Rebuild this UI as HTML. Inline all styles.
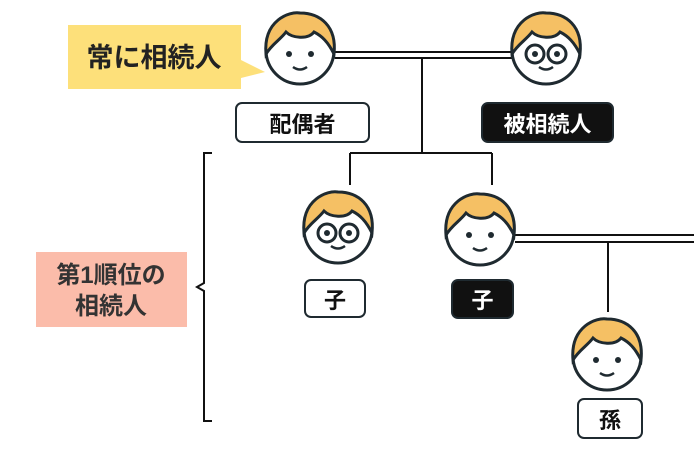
<!DOCTYPE html>
<html><head><meta charset="utf-8"><style>
body{margin:0;width:694px;height:458px;background:#fff;overflow:hidden;position:relative;font-family:"Liberation Sans","Noto Sans CJK JP",sans-serif}
.b{position:absolute;box-sizing:border-box;border:2px solid #1f2a30;border-radius:7px;display:flex;align-items:center;justify-content:center;font-weight:bold;font-size:22px;color:#111;background:#fff}
.k{background:#111;color:#fff}
</style></head><body>
<svg width="694" height="458" style="position:absolute;left:0;top:0">
<defs>
<g id="f">
<circle cx="0" cy="0" r="34" fill="#fff" stroke="#1f2a30" stroke-width="3"/>
<path d="M-34,4 C-37,-30 -10,-39 0,-37 C20,-37 37,-24 34,4 C28,-8 22,-14 14,-18 C8,-10 -8,-12 -14,-18 C-20,-10 -28,-6 -34,4Z" fill="#f5c064" stroke="#1f2a30" stroke-width="3"/>
<circle cx="-11" cy="4" r="3" fill="#1f2a30"/><circle cx="11" cy="4" r="3" fill="#1f2a30"/>
<path d="M-7,17 Q0,22 7,17" fill="none" stroke="#1f2a30" stroke-width="2.5"/>
</g>
<g id="g"><circle cx="-11" cy="4" r="9" fill="none" stroke="#1f2a30" stroke-width="3"/><circle cx="11" cy="4" r="9" fill="none" stroke="#1f2a30" stroke-width="3"/></g>
</defs>
<path d="M68,25H241V60L265,72L241,78V89H68Z" fill="#fde07a"/>
<rect x="36" y="252" width="151" height="75" fill="#fbbcaa"/>
<path d="M212,153H204V283L197,287L204,291V421H212" fill="none" stroke="#111" stroke-width="2"/>
<g stroke="#111" stroke-width="2" fill="none">
<path d="M335,52H512M335,58H512M422,58V153M350,153H492M350,153V185M492,153V185"/>
<path d="M515,235H694M515,242H694M608,242V312"/>
</g>
<use href="#f" x="300" y="50"/>
<use href="#f" x="546" y="50"/><use href="#g" x="546" y="50"/>
<use href="#f" x="338" y="229"/><use href="#g" x="338" y="229"/>
<use href="#f" x="480" y="231"/>
<use href="#f" x="607" y="356"/>
<text x="154" y="67" text-anchor="middle" font-size="27" font-weight="bold" fill="#222" font-family="Liberation Sans,Noto Sans CJK JP,sans-serif">常に相続人</text>
<text x="111" y="283" text-anchor="middle" font-size="24" font-weight="bold" fill="#333" font-family="Liberation Sans,Noto Sans CJK JP,sans-serif">第1順位の</text>
<text x="111" y="314" text-anchor="middle" font-size="24" font-weight="bold" fill="#333" font-family="Liberation Sans,Noto Sans CJK JP,sans-serif">相続人</text>
</svg>
<div class="b" style="left:235px;top:102px;width:135px;height:41px">配偶者</div>
<div class="b k" style="left:481px;top:102px;width:133px;height:41px">被相続人</div>
<div class="b" style="left:304px;top:279px;width:62px;height:39px">子</div>
<div class="b k" style="left:451px;top:279px;width:63px;height:40px">子</div>
<div class="b" style="left:577px;top:398px;width:66px;height:41px">孫</div>
</body></html>
